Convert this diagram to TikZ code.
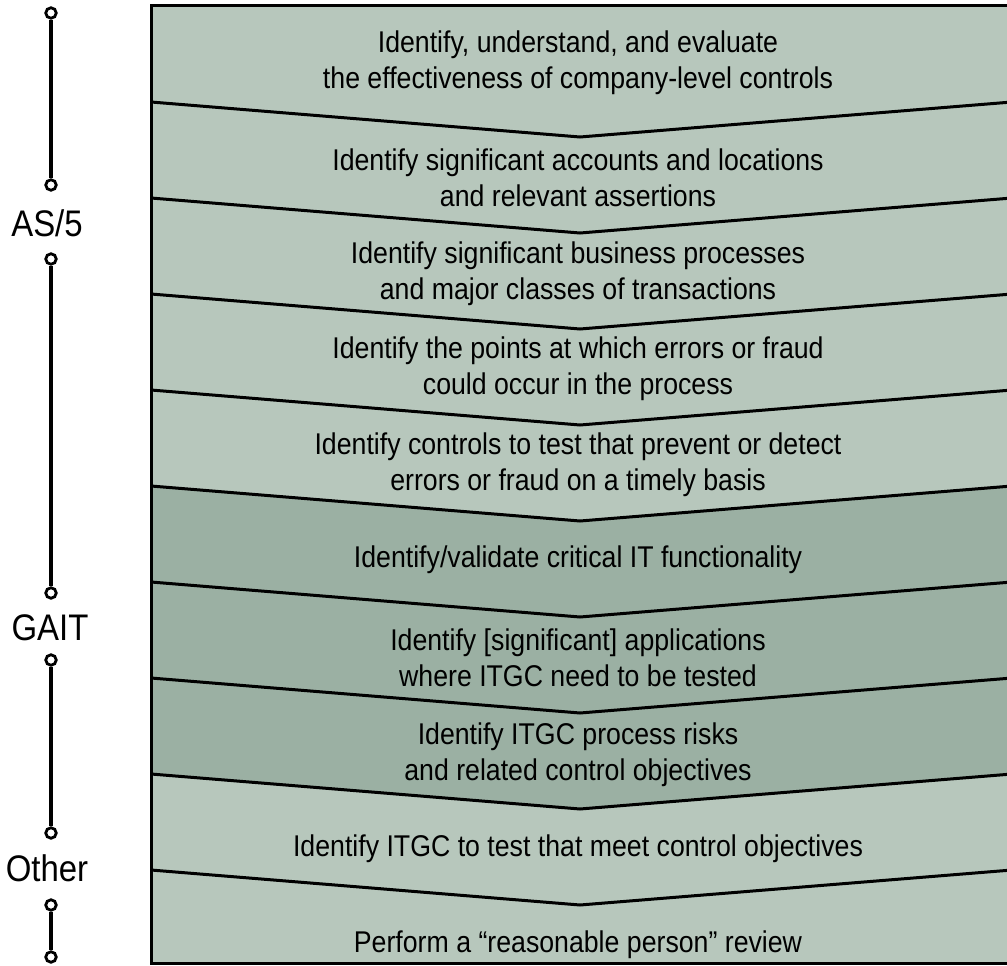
\documentclass[tikz,border=0pt]{standalone}
\usepackage{fontspec}
\setmainfont[FakeStretch=0.89]{Liberation Sans}
\definecolor{bandlight}{RGB}{183,199,188}
\definecolor{banddark}{RGB}{155,176,163}
\begin{document}
\begin{tikzpicture}[x=1pt,y=-1pt,
  steptext/.style={align=center, font=\fontsize{30}{36}\selectfont, inner sep=0pt},
  lbl/.style={font=\fontsize{37}{40}\selectfont, inner sep=0pt},
  dot/.style={circle, draw, line width=2.8pt, fill=white, minimum size=10.5pt, inner sep=0pt},
  bar/.style={line width=3.2pt},
  sepline/.style={line width=3pt, line join=miter}]
\useasboundingbox (0,0) rectangle (1007,966);
% bands
\fill[bandlight] (151,6) rectangle (1012,963);
\fill[banddark] (151,486) -- (580,521) -- (1012,486) -- (1012,774) -- (580,809) -- (151,774) -- cycle;
\foreach \y in {102,198,...,870} \draw[sepline] (151,\y) -- (580,\y+35) -- (1012,\y);
\draw[line width=3pt] (1012,6) -- (151,6) -- (151,963) -- (1012,963);
% texts
\node[steptext] (s1) at (578,63) {Identify, understand, and evaluate\\the effectiveness of company-level controls};
\node[steptext] (s2) at (578,178) {Identify significant accounts and locations\\and relevant assertions};
\node[steptext] (s3) at (578,274) {Identify significant business processes\\and major classes of transactions};
\node[steptext] (s4) at (578,369) {Identify the points at which errors or fraud\\could occur in the process};
\node[steptext] (s5) at (578,465) {Identify controls to test that prevent or detect\\errors or fraud on a timely basis};
\node[steptext] (s6) at (578,560) {Identify/validate critical IT functionality};
\node[steptext] (s7) at (578,658) {Identify [significant] applications\\where ITGC need to be tested};
\node[steptext] (s8) at (578,755) {Identify ITGC process risks\\and related control objectives};
\node[steptext] (s9) at (578,849) {Identify ITGC to test that meet control objectives};
\node[steptext] (s10) at (578,945) {Perform a “reasonable person” review};
% brackets
\node[dot] (a1) at (51,13) {};
\node[dot] (a2) at (51,185) {};
\node[dot] (b1) at (51,259) {};
\node[dot] (b2) at (51,593) {};
\node[dot] (c1) at (51,660) {};
\node[dot] (c2) at (51,833) {};
\node[dot] (d1) at (51,905) {};
\node[dot] (d2) at (51,957) {};
\draw[bar] (a1) -- (a2);
\draw[bar] (b1) -- (b2);
\draw[bar] (c1) -- (c2);
\draw[bar] (d1) -- (d2);
\node[lbl] (l1) at (47,223) {AS/5};
\node[lbl] (l2) at (50,628) {GAIT};
\node[lbl] (l3) at (47,868) {Other};
\end{tikzpicture}
\end{document}
